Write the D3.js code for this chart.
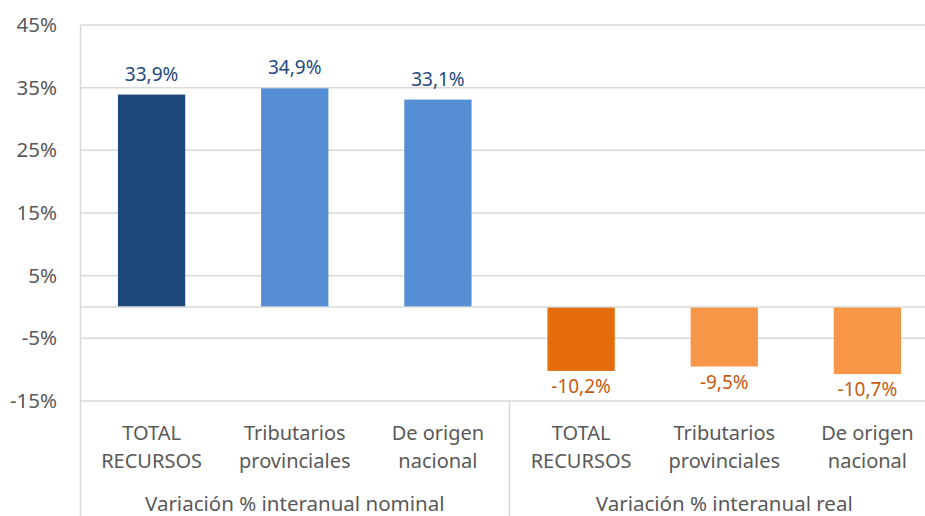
<!DOCTYPE html>
<html>
<head>
<meta charset="utf-8">
<script src="https://cdn.jsdelivr.net/npm/d3@7"></script>
<style>
  body { margin: 0; background: #fff; }
  text { font-family: "Noto Sans", "Open Sans", sans-serif; }
</style>
</head>
<body>
<div id="chart"></div>
<script>
// data
var groups = ["Variación % interanual nominal", "Variación % interanual real"];
var categories = [
	["TOTAL", "RECURSOS"], ["Tributarios", "provinciales"], ["De origen", "nacional"],
	["TOTAL", "RECURSOS"], ["Tributarios", "provinciales"], ["De origen", "nacional"]
];
var values = [33.9, 34.9, 33.1, -10.2, -9.5, -10.7];
var barColors = ["#1f497d", "#558ed5", "#558ed5", "#e46c0a", "#f79646", "#f79646"];
var labelColors = ["#1f497d", "#1f497d", "#1f497d", "#c55a11", "#c55a11", "#c55a11"];
var yTicks = [-15, -5, 5, 15, 25, 35, 45];

var width = 925, height = 516;
var plot = { left: 80, right: 939, top: 25, bottom: 401 };

var locale = d3.formatLocale({ decimal: ",", thousands: ".", grouping: [3], currency: ["", ""], minus: "-" });
var fmt = locale.format(".1f");

var svg = d3.select("#chart")
	.append("svg")
	.attr("width", width)
	.attr("height", height);

var x = d3.scaleBand()
	.domain(d3.range(values.length))
	.range([plot.left, plot.right])
	.paddingInner(0.53)
	.paddingOuter(0.265);

var slot = (plot.right - plot.left) / values.length;

var y = d3.scaleLinear()
	.domain([-15, 45])
	.range([plot.bottom, plot.top]);

// gridlines
svg.append("g")
	.selectAll("line")
	.data(yTicks)
	.join("line")
	.attr("x1", plot.left)
	.attr("x2", plot.right)
	.attr("y1", function(d) { return y(d); })
	.attr("y2", function(d) { return y(d); })
	.attr("stroke", "#d9d9d9")
	.attr("stroke-width", 1.5);

// y tick labels
svg.append("g")
	.selectAll("text")
	.data(yTicks)
	.join("text")
	.attr("x", 57)
	.attr("y", function(d) { return y(d) + 7; })
	.attr("text-anchor", "end")
	.attr("fill", "#595959")
	.style("font-size", "20.5px")
	.text(function(d) { return locale.format("d")(d) + "%"; });

// bars
svg.append("g")
	.selectAll("rect")
	.data(values)
	.join("rect")
	.attr("x", function(d, i) { return x(i); })
	.attr("width", x.bandwidth())
	.attr("y", function(d) { return y(Math.max(0, d)); })
	.attr("height", function(d) { return Math.abs(y(d) - y(0)); })
	.attr("fill", function(d, i) { return barColors[i]; });

// zero line
svg.append("line")
	.attr("x1", plot.left)
	.attr("x2", plot.right)
	.attr("y1", y(0))
	.attr("y2", y(0))
	.attr("stroke", "#d9d9d9")
	.attr("stroke-width", 1.5);

// value labels
svg.append("g")
	.selectAll("text")
	.data(values)
	.join("text")
	.attr("x", function(d, i) { return x(i) + x.bandwidth() / 2; })
	.attr("y", function(d) { return d >= 0 ? y(d) - 14 : y(d) + 22; })
	.attr("text-anchor", "middle")
	.attr("fill", function(d, i) { return labelColors[i]; })
	.style("font-size", "19px")
	.text(function(d) { return fmt(d) + "%"; });

// left axis line + group separators
svg.append("line")
	.attr("x1", plot.left + 0.5).attr("x2", plot.left + 0.5)
	.attr("y1", plot.top).attr("y2", height)
	.attr("stroke", "#d9d9d9").attr("stroke-width", 1.5);

svg.append("g")
	.selectAll("line")
	.data(groups.slice(1))
	.join("line")
	.attr("x1", function(d, i) { return plot.left + slot * 3 * (i + 1); })
	.attr("x2", function(d, i) { return plot.left + slot * 3 * (i + 1); })
	.attr("y1", plot.bottom)
	.attr("y2", height)
	.attr("stroke", "#d9d9d9")
	.attr("stroke-width", 1.5);

// category labels (two lines)
var cat = svg.append("g")
	.selectAll("text")
	.data(categories)
	.join("text")
	.attr("text-anchor", "middle")
	.attr("fill", "#595959")
	.style("font-size", "20px");
cat.each(function(d, i) {
	var cx = x(i) + x.bandwidth() / 2;
	d3.select(this).selectAll("tspan")
		.data(d)
		.join("tspan")
		.attr("x", cx)
		.attr("y", function(t, j) { return 440 + j * 28; })
		.text(function(t) { return t; });
});

// group labels
svg.append("g")
	.selectAll("text")
	.data(groups)
	.join("text")
	.attr("x", function(d, i) { return plot.left + slot * (3 * i + 1.5); })
	.attr("y", 511)
	.attr("text-anchor", "middle")
	.attr("fill", "#595959")
	.style("font-size", "20.5px")
	.text(function(d) { return d; });
</script>
</body>
</html>
